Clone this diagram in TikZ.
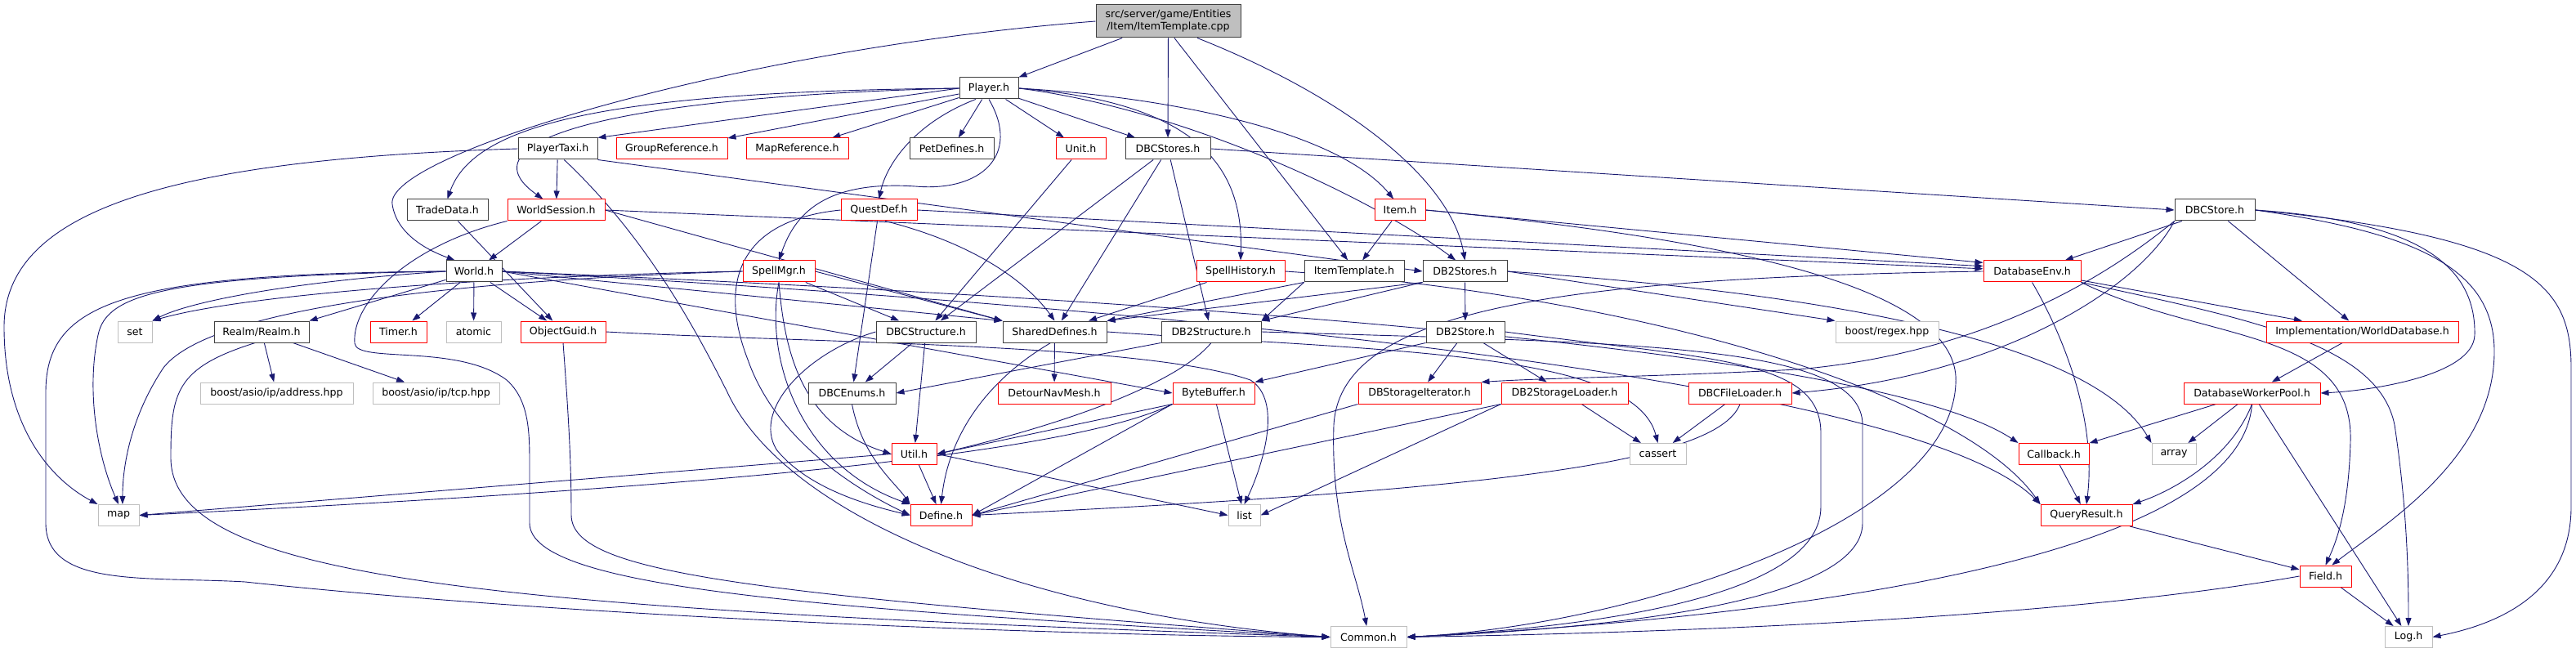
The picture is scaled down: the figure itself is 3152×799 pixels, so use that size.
\documentclass[tikz,border=0pt]{standalone}
\usepackage{fontspec}
\setmainfont{DejaVu Sans}
\usetikzlibrary{arrows.meta}
\definecolor{edgeblue}{RGB}{25,25,112}
\definecolor{nodered}{RGB}{255,0,0}
\definecolor{nodeblack}{RGB}{64,64,64}
\definecolor{nodegray}{RGB}{191,191,191}
\pgfdeclarelayer{background}
\pgfsetlayers{background,main}
\tikzset{
  hdr/.style={draw, line width=1pt, fill=white, minimum height=26pt, inner sep=0pt,
    font=\fontsize{12.6}{15}\selectfont},
  hblack/.style={hdr, draw=nodeblack},
  hred/.style={hdr, draw=nodered},
  hgray/.style={hdr, draw=nodegray},
  dep/.style={draw=edgeblue, line width=0.9pt, -{Triangle[length=10pt,width=7pt]}}
}

\begin{document}
\begin{tikzpicture}[x=1pt,y=-1pt]
    \useasboundingbox (0,0) rectangle (3152,799);

    % Rank 1: the source file
    \node[hdr, draw=nodeblack, fill=nodegray, minimum width=177, minimum height=40, align=center] (root) at (1429.5,26) {src/server/game/Entities\\/Item/ItemTemplate.cpp};

    % Rank 2
    \node[hblack, minimum width=72] (player) at (1210,108) {Player.h};

    % Rank 3
    \node[hblack, minimum width=97] (playertaxi) at (682.5,182) {PlayerTaxi.h};
    \node[hred, minimum width=136] (groupref) at (822,182) {GroupReference.h};
    \node[hred, minimum width=125] (mapref) at (975.5,182) {MapReference.h};
    \node[hblack, minimum width=103] (petdefines) at (1164.5,182) {PetDefines.h};
    \node[hred, minimum width=61] (unit) at (1322.5,182) {Unit.h};
    \node[hblack, minimum width=104] (dbcstores) at (1429,182) {DBCStores.h};

    % Rank 4
    \node[hblack, minimum width=99] (tradedata) at (547.5,257) {TradeData.h};
    \node[hred, minimum width=119] (worldsession) at (680.5,257) {WorldSession.h};
    \node[hred, minimum width=93] (questdef) at (1075.5,257) {QuestDef.h};
    \node[hred, minimum width=62] (item) at (1713,257) {Item.h};
    \node[hblack, minimum width=98] (dbcstore) at (2710,257) {DBCStore.h};

    % Rank 5
    \node[hblack, minimum width=68] (world) at (580,332) {World.h};
    \node[hred, minimum width=88] (spellmgr) at (953,332) {SpellMgr.h};
    \node[hred, minimum width=108] (spellhistory) at (1518,332) {SpellHistory.h};
    \node[hblack, minimum width=122] (itemtemplate) at (1657,332) {ItemTemplate.h};
    \node[hblack, minimum width=103] (db2stores) at (1792.5,332) {DB2Stores.h};
    \node[hred, minimum width=119] (databaseenv) at (2486.5,332) {DatabaseEnv.h};

    % Rank 6
    \node[hgray, minimum width=42] (set) at (165,406) {set};
    \node[hblack, minimum width=116] (realm) at (320,406) {Realm/Realm.h};
    \node[hred, minimum width=69] (timer) at (487.5,406) {Timer.h};
    \node[hgray, minimum width=67] (atomic) at (579.5,406) {atomic};
    \node[hred, minimum width=104] (objectguid) at (689,406) {ObjectGuid.h};
    \node[hblack, minimum width=122] (dbcstructure) at (1133,406) {DBCStructure.h};
    \node[hblack, minimum width=127] (shareddefines) at (1290.5,406) {SharedDefines.h};
    \node[hblack, minimum width=122] (db2structure) at (1482,406) {DB2Structure.h};
    \node[hblack, minimum width=96] (db2store) at (1793,406) {DB2Store.h};
    \node[hgray, minimum width=126] (boostregex) at (2309,406) {boost/regex.hpp};
    \node[hred, minimum width=235] (worlddatabase) at (2890.5,406) {Implementation/WorldDatabase.h};

    % Rank 7
    \node[hgray, minimum width=187] (address) at (338.5,481) {boost/asio/ip/address.hpp};
    \node[hgray, minimum width=155] (tcp) at (533.5,481) {boost/asio/ip/tcp.hpp};
    \node[hblack, minimum width=107] (dbcenums) at (1042.5,481) {DBCEnums.h};
    \node[hred, minimum width=138] (detour) at (1290,481) {DetourNavMesh.h};
    \node[hred, minimum width=100] (bytebuffer) at (1485,481) {ByteBuffer.h};
    \node[hred, minimum width=150] (dbstorageiter) at (1737,481) {DBStorageIterator.h};
    \node[hred, minimum width=155] (db2storageloader) at (1914.5,481) {DB2StorageLoader.h};
    \node[hred, minimum width=126] (dbcfileloader) at (2129,481) {DBCFileLoader.h};
    \node[hred, minimum width=167] (dbworkerpool) at (2755.5,481) {DatabaseWorkerPool.h};

    % Rank 8
    \node[hred, minimum width=55] (util) at (1118.5,555.5) {Util.h};
    \node[hgray, minimum width=69] (cassert) at (2028.5,555.5) {cassert};
    \node[hred, minimum width=86] (callback) at (2513,555.5) {Callback.h};
    \node[hgray, minimum width=54] (array) at (2660,555.5) {array};

    % Rank 9
    \node[hgray, minimum width=50] (map) at (145,630.5) {map};
    \node[hred, minimum width=75] (define) at (1151.5,630.5) {Define.h};
    \node[hgray, minimum width=39] (list) at (1522.5,630.5) {list};
    \node[hred, minimum width=112] (queryresult) at (2553,630.5) {QueryResult.h};

    % Rank 10 and 11
    \node[hred, minimum width=63] (field) at (2845.5,705) {Field.h};
    \node[hgray, minimum width=93] (common) at (1674.5,779.5) {Common.h};
    \node[hgray, minimum width=58] (log) at (2947,779.5) {Log.h};

    \begin{pgfonlayer}{background}
    % ItemTemplate.cpp
    \draw[dep] (root.west) .. controls (900,60) and (470,190) .. (480,250) .. controls (485,285) and (520,305) .. (world.150);
    \draw[dep] (root.200) -- (player.north east);
    \draw[dep] (root) -- (dbcstores);
    \draw[dep] (root.290) -- (itemtemplate.120);
    \draw[dep] (root.330) .. controls (1650,120) and (1775,220) .. (db2stores.north);

    % Player.h
    \draw[dep] (player.west) -- (playertaxi.north east);
    \draw[dep] (player.west) .. controls (750,112) and (580,150) .. (tradedata.north);
    \draw[dep] (player.west) .. controls (760,118) and (560,170) .. (worldsession.140);
    \draw[dep] (player) -- (groupref);
    \draw[dep] (player) -- (mapref);
    \draw[dep] (player) -- (petdefines);
    \draw[dep] (player.220) .. controls (1120,150) and (1085,200) .. (questdef.north);
    \draw[dep] (player.south) .. controls (1250,190) and (1200,235) .. (1120,228) .. controls (1000,220) and (970,270) .. (spellmgr.north);
    \draw[dep] (player) -- (unit);
    \draw[dep] (player) -- (dbcstores);
    \draw[dep] (player.east) .. controls (1460,125) and (1522,200) .. (spellhistory.north);
    \draw[dep] (player.east) .. controls (1450,120) and (1640,165) .. (item.120);
    \draw[dep] (player.east) .. controls (1460,135) and (1690,250) .. (db2stores.130);

    % PlayerTaxi.h
    \draw[dep] (playertaxi) -- (worldsession);
    \draw[dep] (playertaxi.west) .. controls (200,195) and (5,260) .. (5,400) .. controls (5,520) and (60,585) .. (map.north west);
    \draw[dep] (playertaxi.300) .. controls (780,280) and (840,380) .. (890,480) .. controls (960,630) and (1250,750) .. (common.west);
    \draw[dep] (playertaxi.south east) -- (db2stores.west);

    % TradeData.h and WorldSession.h
    \draw[dep] (tradedata) -- (objectguid);
    \draw[dep] (worldsession) -- (world);
    \draw[dep] (worldsession.south west) .. controls (500,300) and (430,370) .. (434,420) .. controls (436,445) and (560,420) .. (620,465) .. controls (648,490) and (648,530) .. (648,570) -- (648,640) .. controls (648,720) and (1000,745) .. (common.west);
    \draw[dep] (worldsession.east) -- (shareddefines.north west);
    \draw[dep] (worldsession.east) -- (databaseenv.177);

    % QuestDef.h, Item.h, Unit.h
    \draw[dep] (questdef.west) .. controls (900,270) and (880,350) .. (915,440) .. controls (950,540) and (1050,600) .. (define.west);
    \draw[dep] (questdef) -- (dbcenums);
    \draw[dep] (questdef.300) .. controls (1200,300) and (1260,350) .. (shareddefines.north);
    \draw[dep] (questdef.east) -- (databaseenv.174);
    \draw[dep] (item) -- (itemtemplate);
    \draw[dep] (item.east) -- (databaseenv.170);
    \draw[dep] (item.east) .. controls (2200,300) and (2400,370) .. (2393,470) .. controls (2385,640) and (2000,765) .. (common.east);
    \draw[dep] (unit) -- (dbcstructure);

    % DBCStores.h and DBCStore.h
    \draw[dep] (dbcstores) -- (dbcstructure);
    \draw[dep] (dbcstores) -- (shareddefines);
    \draw[dep] (dbcstores) -- (db2structure);
    \draw[dep] (dbcstores.east) -- (dbcstore.west);
    \draw[dep] (dbcstore) -- (databaseenv);
    \draw[dep] (dbcstore.south west) .. controls (2600,320) and (2450,430) .. (2200,452) .. controls (2000,462) and (1900,462) .. (dbstorageiter.north east);
    \draw[dep] (dbcstore.south west) .. controls (2620,350) and (2450,460) .. (dbcfileloader.east);
    \draw[dep] (dbcstore) -- (worlddatabase);
    \draw[dep] (dbcstore.east) .. controls (2950,270) and (3030,320) .. (3028,410) .. controls (3026,460) and (2900,478) .. (dbworkerpool.east);
    \draw[dep] (dbcstore.east) .. controls (2960,285) and (3052,330) .. (3052,430) .. controls (3052,560) and (2920,640) .. (field.60);
    \draw[dep] (dbcstore.east) .. controls (3100,290) and (3146,350) .. (3146,450) -- (3146,620) .. controls (3146,730) and (3050,765) .. (log.east);

    % World.h
    \draw[dep] (world.west) .. controls (150,335) and (56,370) .. (56,480) -- (56,640) .. controls (56,720) and (180,705) .. (300,712) .. controls (700,755) and (1300,778) .. (common.west);
    \draw[dep] (world.west) .. controls (200,338) and (130,360) .. (120,410) .. controls (105,480) and (120,560) .. (map.north);
    \draw[dep] (world.west) .. controls (350,345) and (230,370) .. (set.north east);
    \draw[dep] (world) -- (realm.north east);
    \draw[dep] (world) -- (timer);
    \draw[dep] (world) -- (atomic);
    \draw[dep] (world) -- (objectguid);
    \draw[dep] (world.east) -- (shareddefines.north west);
    \draw[dep] (world.east) -- (bytebuffer.west);
    \draw[dep] (world.east) .. controls (1500,370) and (2300,430) .. (callback.north west);
    \draw[dep] (world.east) .. controls (1500,380) and (2350,470) .. (queryresult.north west);

    % Realm/Realm.h and ObjectGuid.h
    \draw[dep] (realm) -- (address);
    \draw[dep] (realm) -- (tcp);
    \draw[dep] (realm.240) .. controls (215,450) and (209,480) .. (209,560) .. controls (209,710) and (600,745) .. (common.west);
    \draw[dep] (objectguid.south) .. controls (695,500) and (699,560) .. (699,630) .. controls (699,700) and (900,725) .. (common.west);
    \draw[dep] (objectguid.east) .. controls (1000,420) and (1400,420) .. (1530,465) .. controls (1570,490) and (1545,570) .. (list.north);

    % SpellMgr.h, SpellHistory.h, ItemTemplate.h
    \draw[dep] (spellmgr.west) .. controls (600,338) and (300,360) .. (set.north east);
    \draw[dep] (spellmgr.west) .. controls (500,345) and (250,385) .. (200,450) .. controls (160,510) and (150,570) .. (map.70);
    \draw[dep] (spellmgr) -- (dbcstructure);
    \draw[dep] (spellmgr.east) -- (shareddefines.north west);
    \draw[dep] (spellmgr.south) .. controls (960,430) and (980,520) .. (util.west);
    \draw[dep] (spellmgr.south) .. controls (935,440) and (980,570) .. (define.north west);
    \draw[dep] (spellhistory) -- (shareddefines);
    \draw[dep] (spellhistory.east) .. controls (2000,360) and (2400,480) .. (queryresult.north west);
    \draw[dep] (itemtemplate.south west) -- (shareddefines.north east);
    \draw[dep] (itemtemplate.south west) -- (db2structure.north east);

    % DB2Stores.h
    \draw[dep] (db2stores.south west) -- (shareddefines.north east);
    \draw[dep] (db2stores.south west) -- (db2structure.north east);
    \draw[dep] (db2stores) -- (db2store);
    \draw[dep] (db2stores.east) -- (boostregex.north west);
    \draw[dep] (db2stores.east) .. controls (2250,360) and (2560,420) .. (array.north west);

    % DatabaseEnv.h
    \draw[dep] (databaseenv.west) .. controls (1900,340) and (1640,380) .. (1632,520) .. controls (1628,640) and (1660,700) .. (common.100);
    \draw[dep] (databaseenv.south) .. controls (2530,420) and (2565,520) .. (queryresult.north);
    \draw[dep] (databaseenv.south east) .. controls (2700,420) and (2880,400) .. (2876,540) .. controls (2874,620) and (2860,660) .. (field.north);
    \draw[dep] (databaseenv.south east) .. controls (2750,390) and (2910,420) .. (2930,520) .. controls (2945,620) and (2947,700) .. (log.north);
    \draw[dep] (databaseenv) -- (worlddatabase);
    \draw[dep] (worlddatabase) -- (dbworkerpool);

    % DBCStructure.h, SharedDefines.h, DB2Structure.h, DB2Store.h
    \draw[dep] (dbcstructure) -- (dbcenums);
    \draw[dep] (dbcstructure) -- (util);
    \draw[dep] (dbcstructure.west) .. controls (990,430) and (920,500) .. (950,550) .. controls (990,600) and (1070,620) .. (define.west);
    \draw[dep] (shareddefines) -- (detour);
    \draw[dep] (shareddefines.250) .. controls (1200,470) and (1160,540) .. (define.north);
    \draw[dep] (shareddefines.east) .. controls (1700,430) and (2000,430) .. (cassert.north);
    \draw[dep] (db2structure.south west) -- (dbcenums.east);
    \draw[dep] (db2structure.south) .. controls (1440,470) and (1300,520) .. (util.east);
    \draw[dep] (db2structure.east) .. controls (2000,420) and (2279,420) .. (2279,520) -- (2279,640) .. controls (2279,740) and (1950,770) .. (common.east);
    \draw[dep] (db2store) -- (dbstorageiter);
    \draw[dep] (db2store) -- (db2storageloader);
    \draw[dep] (db2store.south west) -- (bytebuffer.north east);
    \draw[dep] (db2store.east) .. controls (2100,440) and (2228,440) .. (2228,530) -- (2228,620) .. controls (2228,740) and (1900,770) .. (common.east);

    % Rank 7 headers
    \draw[dep] (dbcenums.south) .. controls (1055,560) and (1095,590) .. (define.north west);
    \draw[dep] (bytebuffer.south west) -- (util.east);
    \draw[dep] (bytebuffer.south west) .. controls (1300,560) and (800,600) .. (map.east);
    \draw[dep] (bytebuffer.south west) -- (define.east);
    \draw[dep] (bytebuffer) -- (list);
    \draw[dep] (dbstorageiter.south west) -- (define.east);
    \draw[dep] (db2storageloader.south west) -- (define.east);
    \draw[dep] (db2storageloader.south west) -- (list.east);
    \draw[dep] (db2storageloader) -- (cassert);
    \draw[dep] (dbcfileloader) -- (cassert);
    \draw[dep] (dbcfileloader.south) .. controls (2100,570) and (1800,600) .. (define.east);
    \draw[dep] (dbworkerpool) -- (callback);
    \draw[dep] (dbworkerpool) -- (array);
    \draw[dep] (dbworkerpool.south) .. controls (2730,560) and (2660,600) .. (queryresult.north east);
    \draw[dep] (dbworkerpool.south) .. controls (2740,700) and (2100,760) .. (common.east);
    \draw[dep] (dbworkerpool) -- (log);

    % Lower ranks
    \draw[dep] (util.west) -- (map.east);
    \draw[dep] (util) -- (define);
    \draw[dep] (util.east) -- (list.west);
    \draw[dep] (callback) -- (queryresult);
    \draw[dep] (queryresult) -- (field);
    \draw[dep] (field.west) .. controls (2500,760) and (2000,775) .. (common.east);
    \draw[dep] (field) -- (log);
    \end{pgfonlayer}
\end{tikzpicture}
\end{document}
